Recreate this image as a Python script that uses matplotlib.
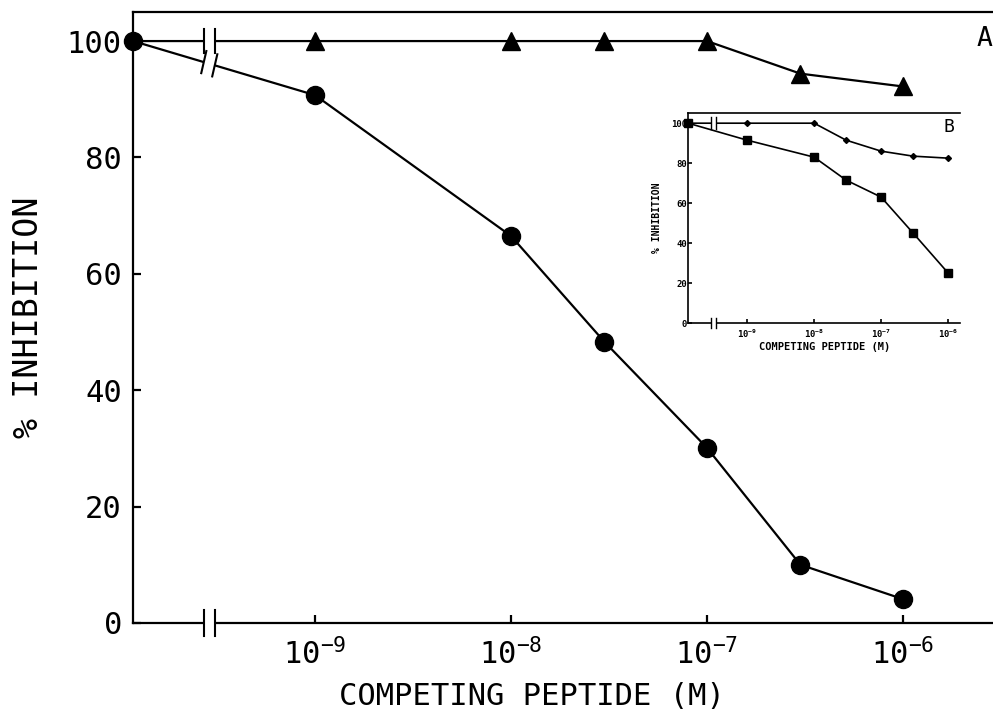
import numpy as np
import matplotlib
matplotlib.use("Agg")
import matplotlib.pyplot as plt

# ---------------- data ----------------
conc = [0, 1e-9, 1e-8, 3e-8, 1e-7, 3e-7, 1e-6]
circles_A = [100, 90.7, 66.5, 48.3, 30.1, 10.0, 4.1]
triangles_A = [100, 100, 100, 100, 100, 94.4, 92.2]
squares_B = [100, 91.5, 83.0, 71.5, 63.0, 45.0, 25.0]
diamonds_B = [100, 100, 100, 91.5, 86.0, 83.5, 82.5]
xtick_exp = [-9, -8, -7, -6]
yticks = [0, 20, 40, 60, 80, 100]
xlabel = "COMPETING PEPTIDE (M)"
ylabel = "% INHIBITION"

FONT = "DejaVu Sans Mono"
plt.rcParams["font.family"] = [FONT, "DejaVu Sans"]
plt.rcParams["mathtext.fontset"] = "custom"
plt.rcParams["mathtext.rm"] = FONT

fig = plt.figure(figsize=(9.93, 7.21), dpi=100)


def xpos(c, zero_pos):
    c = np.asarray(c, dtype=float)
    out = np.full(c.shape, zero_pos)
    nz = c > 0
    out[nz] = np.log10(c[nz])
    return out


def style_axes(ax, xlim, ylim, lw, ticklen, labsize, pad_x, pad_y):
    ax.set_xlim(*xlim)
    ax.set_ylim(*ylim)
    ax.spines["right"].set_visible(False)
    for s in ["left", "bottom", "top"]:
        ax.spines[s].set_linewidth(lw)
    ax.set_xticks(xtick_exp)
    ax.set_xticklabels([r"$\mathregular{10^{%d}}$" % e for e in xtick_exp])
    ax.set_yticks(yticks)
    ax.set_yticklabels([str(v) for v in yticks])
    ax.tick_params(direction="in", length=ticklen, width=lw, labelsize=labsize,
                   top=False, right=False)
    ax.tick_params(axis="x", pad=pad_x)
    ax.tick_params(axis="y", pad=pad_y)


def draw_break(ax, xb, hw, yline, dy, slant, lw, white_lw):
    ax.plot([xb - hw, xb + hw], [yline[0], yline[1]], color="white", lw=white_lw,
            solid_capstyle="butt", zorder=4, clip_on=False)
    for k, x0 in enumerate([xb - hw, xb + hw]):
        yc = yline[k]
        ax.plot([x0 - slant, x0 + slant], [yc - dy, yc + dy], color="black", lw=lw,
                zorder=5, clip_on=False)


# ---------------- main axes (A) ----------------
ax = fig.add_axes([0.134, 0.136, 0.866, 0.8474])
xlimA = (-9.929, -5.54)
zA = xlimA[0]
xa = xpos(conc, zA)
ax.plot(xa, triangles_A, color="black", lw=1.6, marker="^", markersize=13,
        markevery=list(range(1, len(conc))), zorder=3, clip_on=False)
ax.plot(xa, circles_A, color="black", lw=1.6, marker="o", markersize=13, zorder=3,
        clip_on=False)
style_axes(ax, xlimA, (0, 105), 1.6, 6, 22, 11, 8)
ax.set_xlabel(xlabel, fontsize=22)
ax.xaxis.set_label_coords(0.464, -0.096, transform=ax.transAxes)
ax.xaxis.label.set_va("top")
ax.set_ylabel(ylabel, fontsize=24, labelpad=16)

xbA = -9.54
hwA = 0.028
draw_break(ax, xbA, hwA, (0, 0), 2.2, 0.0, 1.5, 4)
draw_break(ax, xbA, hwA, (100, 100), 2.0, 0.0, 1.5, 4)
yc = np.interp([xbA - hwA, xbA + hwA], xa[:2], circles_A[:2])
draw_break(ax, xbA, hwA, tuple(yc), 1.9, 0.013, 1.5, 4)
ax.text(0.9995, 0.955, "A", transform=ax.transAxes, fontsize=19, ha="right",
        va="center", clip_on=False)

# ---------------- inset (B) ----------------
axi = fig.add_axes([0.693, 0.552, 0.274, 0.291])
xlimB = (-9.88, -5.82)
zB = xlimB[0]
xb = xpos(conc, zB)
axi.plot(xb, diamonds_B, color="black", lw=1.2, marker="D", markersize=3, zorder=3,
         clip_on=False)
axi.plot(xb, squares_B, color="black", lw=1.2, marker="s", markersize=6, zorder=3,
         clip_on=False)
style_axes(axi, xlimB, (0, 105), 1.2, 3, 6.5, 3, 1)
for lab in axi.get_xticklabels() + axi.get_yticklabels():
    lab.set_fontweight("bold")
axi.set_xlabel(xlabel, fontsize=7.5, fontweight="bold", labelpad=2)
axi.set_ylabel(ylabel, fontsize=7, fontweight="bold", labelpad=6)
xbB = -9.5
hwB = 0.04
draw_break(axi, xbB, hwB, (0, 0), 2.5, 0.0, 1.0, 3)
draw_break(axi, xbB, hwB, (100, 100), 3.0, 0.0, 1.0, 3)
axi.text(0.96, 0.935, "B", transform=axi.transAxes, fontsize=13, ha="center",
         va="center")

fig.savefig("out.png", dpi=100)
